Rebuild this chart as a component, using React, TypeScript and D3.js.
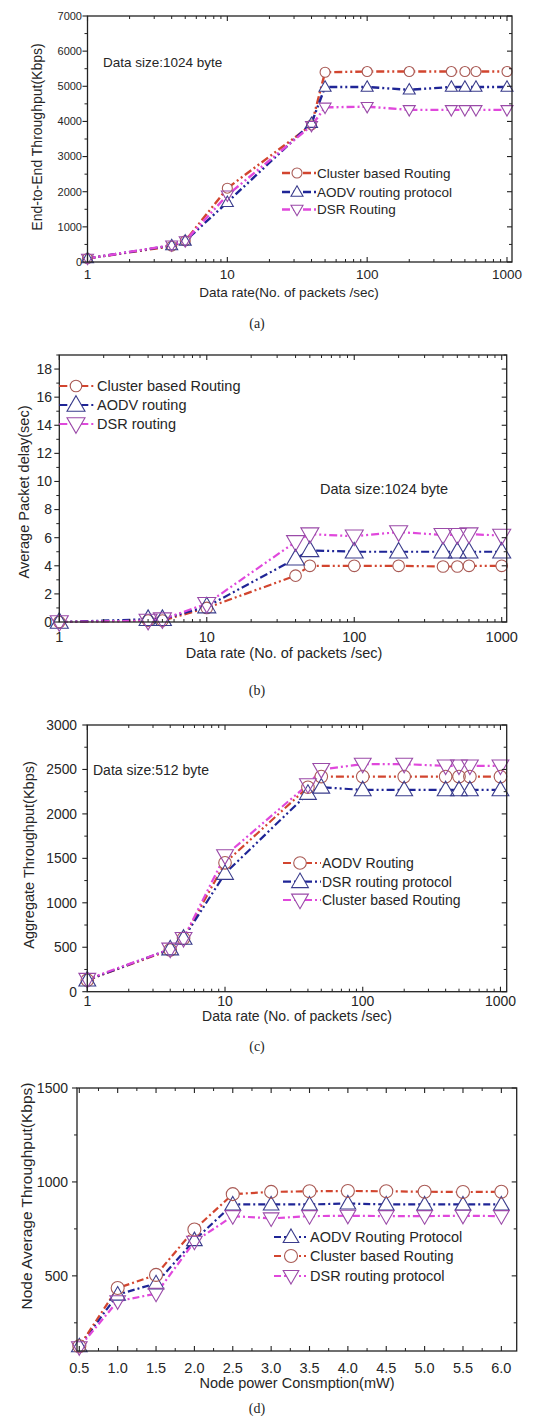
import * as d3 from "d3";

// shared x values (data rate, packets/sec) for panels a-c
const rateX = [1, 4, 5, 10, 40, 50, 100, 200, 400, 500, 600, 1000];
// node power (mW) for panel d
const powerX = [0.5, 1.0, 1.5, 2.0, 2.5, 3.0, 3.5, 4.0, 4.5, 5.0, 5.5, 6.0];

// (a) End-to-end throughput, 1024 byte
const aCluster = [100, 450, 600, 2100, 3900, 5400, 5420, 5420, 5420, 5420, 5420, 5420];
const aAodv = [100, 470, 600, 1700, 3950, 4980, 4980, 4900, 4980, 4980, 4980, 4980];
const aDsr = [100, 480, 600, 1900, 3880, 4400, 4420, 4330, 4330, 4330, 4330, 4330];

// (b) Average packet delay, 1024 byte
const bCluster = [0, 0.1, 0.1, 1.0, 3.3, 4.0, 4.0, 4.0, 3.95, 3.95, 4.0, 4.0];
const bAodv = [0, 0.2, 0.2, 1.1, 4.5, 5.1, 5.0, 5.0, 5.0, 5.0, 5.0, 5.0];
const bDsr = [0, 0.1, 0.2, 1.3, 5.7, 6.25, 6.1, 6.4, 6.2, 6.2, 6.25, 6.15];

// (c) Aggregate throughput, 512 byte
const cAodv = [130, 470, 600, 1450, 2300, 2420, 2420, 2420, 2420, 2420, 2420, 2420];
const cDsr = [130, 480, 600, 1330, 2230, 2300, 2270, 2270, 2270, 2270, 2270, 2270];
const cCluster = [140, 480, 600, 1530, 2330, 2500, 2560, 2560, 2540, 2540, 2540, 2540];

// (d) Node average throughput vs power
const dAodv = [125, 400, 460, 690, 880, 880, 880, 885, 880, 880, 880, 880];
const dCluster = [125, 435, 505, 747, 935, 947, 950, 952, 950, 948, 946, 948];
const dDsr = [120, 365, 405, 682, 818, 806, 818, 820, 818, 818, 820, 818];

const rateTicks = [1, 10, 100, 1000];
const rateTickLabels = ["1", "10", "100", "1000"];
const powerTicks = [0.5, 1.0, 1.5, 2.0, 2.5, 3.0, 3.5, 4.0, 4.5, 5.0, 5.5, 6.0];

const RED = "#d2452f";
const BLUE = "#1f2596";
const MAG = "#e048dc";
const RED_M = "#a95a55";
const BLUE_M = "#3a3c8c";
const MAG_M = "#9a4aa8";

const SANS = "'Liberation Sans', Arial, sans-serif";
const SERIF = "'Liberation Serif', 'Times New Roman', serif";
const TXT = "#262626";

type Marker = "circle" | "up" | "down";
type Series = { name: string; values: number[]; color: string; mcolor: string; marker: Marker };

type PanelCfg = {
  left: number; right: number; top: number; bottom: number;
  log: boolean;
  xDomain: [number, number];
  yDomain: [number, number];
  xs: number[];
  xTicks: number[]; xTickLabels: string[]; xMinor: number[];
  yTicks: number[]; yMinor: number[];
  series: Series[];
  xTitle: string; xTitleX: number; xTitleY: number;
  yTitle: string; yTitleX: number; yTitleY: number;
  note?: string; noteX?: number; noteY?: number;
  tag: string; tagY: number;
  legendRows: number[]; legendLine: [number, number]; legendMarkX: number; legendTextX: number;
  fs: number; yfs: number; xfs: number; ytfs: number;
  ms: number; cr: number; lw: number; dash: string;
  xTickY: number; yTickX: number;
};

const logMinor = (lo: number, hi: number) => {
  const out: number[] = [];
  for (let d = 1; d <= 1000; d *= 10) for (let k = 2; k <= 9; k++) {
    const v = d * k;
    if (v > lo && v < hi) out.push(v);
  }
  return out;
};

const range = (a: number, b: number, s: number) => d3.range(a, b + s / 2, s);

const markerPath = (m: Marker, s: number) => {
  if (m === "up") return `M0,${-s * 0.62}L${s * 0.6},${s * 0.42}L${-s * 0.6},${s * 0.42}Z`;
  if (m === "down") return `M0,${s * 0.62}L${s * 0.6},${-s * 0.42}L${-s * 0.6},${-s * 0.42}Z`;
  return "";
};

type MarkProps = { m: Marker; s: number; r: number; x: number; y: number; color: string; fill: string };

const Mark = ({ m, s, r, x, y, color, fill }: MarkProps) =>
  m === "circle" ? (
    <circle cx={x} cy={y} r={r} fill={fill} stroke={color} strokeWidth={1.1} />
  ) : (
    <path d={markerPath(m, s)} transform={`translate(${x},${y})`} fill={fill} stroke={color} strokeWidth={1.1} />
  );

const Panel = ({ c }: { c: PanelCfg }) => {
  const x = (c.log ? d3.scaleLog() : d3.scaleLinear()).domain(c.xDomain).range([c.left, c.right]);
  const y = d3.scaleLinear().domain(c.yDomain).range([c.bottom, c.top]);
  const line = d3
    .line<number>()
    .x((_, i) => x(c.xs[i]))
    .y((d) => y(d));
  const tick = "#222";
  return (
    <g>
      {c.series.map((s) => (
        <path key={s.name} d={line(s.values) || ""} fill="none" stroke={s.color} strokeWidth={c.lw} strokeDasharray={c.dash} />
      ))}
      {/* white fill first, outlines after, so overlapping markers stay visible */}
      {c.series.map((s) =>
        s.values.map((v, i) => (
          <Mark key={s.name + "f" + i} m={s.marker} s={c.ms} r={c.cr} x={x(c.xs[i])} y={y(v)} color="none" fill="#fff" />
        ))
      )}
      {c.series.map((s) =>
        s.values.map((v, i) => (
          <Mark key={s.name + "o" + i} m={s.marker} s={c.ms} r={c.cr} x={x(c.xs[i])} y={y(v)} color={s.mcolor} fill="none" />
        ))
      )}
      <rect x={c.left} y={c.top} width={c.right - c.left} height={c.bottom - c.top} fill="none" stroke={tick} strokeWidth={1.3} />
      {c.xTicks.map((t) => (
        <g key={"xt" + t}>
          <line x1={x(t)} x2={x(t)} y1={c.bottom} y2={c.bottom - 5} stroke={tick} strokeWidth={1.1} />
          <line x1={x(t)} x2={x(t)} y1={c.top} y2={c.top + 5} stroke={tick} strokeWidth={1.1} />
        </g>
      ))}
      {c.xMinor.map((t) => (
        <g key={"xm" + t}>
          <line x1={x(t)} x2={x(t)} y1={c.bottom} y2={c.bottom - 3} stroke={tick} strokeWidth={1} />
          <line x1={x(t)} x2={x(t)} y1={c.top} y2={c.top + 3} stroke={tick} strokeWidth={1} />
        </g>
      ))}
      {c.xTicks.map((t, i) => (
        <text key={"xl" + t} x={x(t)} y={c.xTickY} textAnchor="middle" fontSize={c.xfs} fontFamily={SANS} fill={TXT}>
          {c.xTickLabels[i]}
        </text>
      ))}
      {c.yTicks.map((t) => (
        <g key={"yt" + t}>
          <line x1={c.left} x2={c.left - 5} y1={y(t)} y2={y(t)} stroke={tick} strokeWidth={1.1} />
          <line x1={c.right} x2={c.right - 5} y1={y(t)} y2={y(t)} stroke={tick} strokeWidth={1.1} />
          <text x={c.yTickX} y={y(t)} dy="0.35em" textAnchor="end" fontSize={c.yfs} fontFamily={SANS} fill={TXT}>
            {t}
          </text>
        </g>
      ))}
      {c.yMinor.map((t) => (
        <g key={"ym" + t}>
          <line x1={c.left} x2={c.left - 3} y1={y(t)} y2={y(t)} stroke={tick} strokeWidth={1} />
          <line x1={c.right} x2={c.right - 3} y1={y(t)} y2={y(t)} stroke={tick} strokeWidth={1} />
        </g>
      ))}
      <text x={c.xTitleX} y={c.xTitleY} textAnchor="middle" fontSize={c.fs} fontFamily={SANS} fill={TXT}>
        {c.xTitle}
      </text>
      <text
        transform={`translate(${c.yTitleX},${c.yTitleY}) rotate(-90)`}
        textAnchor="middle"
        fontSize={c.ytfs}
        fontFamily={SANS}
        fill={TXT}
      >
        {c.yTitle}
      </text>
      {c.note && (
        <text x={c.noteX} y={c.noteY} fontSize={c.fs} fontFamily={SANS} fill={TXT}>
          {c.note}
        </text>
      )}
      {c.series.map((s, i) => {
        const ly = c.legendRows[i];
        return (
          <g key={"lg" + s.name}>
            <line x1={c.legendLine[0]} x2={c.legendLine[1]} y1={ly} y2={ly} stroke={s.color} strokeWidth={c.lw} strokeDasharray={c.dash} />
            <Mark m={s.marker} s={c.ms} r={c.cr} x={c.legendMarkX} y={ly} color={s.mcolor} fill="#fff" />
            <text x={c.legendTextX} y={ly} dy="0.36em" fontSize={c.fs} fontFamily={SANS} fill={TXT}>
              {s.name}
            </text>
          </g>
        );
      })}
      <text x={257} y={c.tagY} textAnchor="middle" fontSize={14} fontFamily={SERIF} fill={TXT}>
        {c.tag}
      </text>
    </g>
  );
};

const DASH = "8,3,2,3,2,3";

const panelA: PanelCfg = {
  left: 87.5, right: 512, top: 16, bottom: 262, log: true,
  xDomain: [1, 1086], yDomain: [0, 7000], xs: rateX,
  xTicks: rateTicks, xTickLabels: rateTickLabels, xMinor: logMinor(1, 1086),
  yTicks: range(0, 7000, 1000), yMinor: range(500, 6500, 1000),
  series: [
    { name: "Cluster based Routing", values: aCluster, color: RED, mcolor: RED_M, marker: "circle" },
    { name: "AODV routing protocol", values: aAodv, color: BLUE, mcolor: BLUE_M, marker: "up" },
    { name: "DSR Routing", values: aDsr, color: MAG, mcolor: MAG_M, marker: "down" },
  ],
  xTitle: "Data rate(No. of packets /sec)", xTitleX: 289, xTitleY: 297,
  yTitle: "End-to-End Throughput(Kbps)", yTitleX: 42, yTitleY: 137,
  note: "Data size:1024 byte", noteX: 103, noteY: 67,
  tag: "(a)", tagY: 328,
  legendRows: [173, 192, 209.5], legendLine: [282, 316], legendMarkX: 297, legendTextX: 317,
  fs: 13.5, yfs: 11, xfs: 13.5, ytfs: 14, ms: 10, cr: 5, lw: 2.4, dash: DASH,
  xTickY: 279, yTickX: 82,
};

const panelB: PanelCfg = {
  left: 59.3, right: 506.7, top: 355, bottom: 622, log: true,
  xDomain: [1, 1081], yDomain: [0, 19], xs: rateX,
  xTicks: rateTicks, xTickLabels: rateTickLabels, xMinor: logMinor(1, 1081),
  yTicks: range(0, 18, 2), yMinor: range(1, 19, 2),
  series: [
    { name: "Cluster based Routing", values: bCluster, color: RED, mcolor: RED_M, marker: "circle" },
    { name: "AODV routing", values: bAodv, color: BLUE, mcolor: BLUE_M, marker: "up" },
    { name: "DSR routing", values: bDsr, color: MAG, mcolor: MAG_M, marker: "down" },
  ],
  xTitle: "Data rate (No. of packets /sec)", xTitleX: 284, xTitleY: 658,
  yTitle: "Average Packet delay(sec)", yTitleX: 29, yTitleY: 492,
  note: "Data size:1024 byte", noteX: 320, noteY: 494,
  tag: "(b)", tagY: 695,
  legendRows: [386, 405, 424], legendLine: [59.3, 96], legendMarkX: 76, legendTextX: 97,
  fs: 14.5, yfs: 14, xfs: 14.5, ytfs: 14.5, ms: 15, cr: 5.8, lw: 2.2, dash: DASH,
  xTickY: 642, yTickX: 52,
};

const panelC: PanelCfg = {
  left: 87.3, right: 506.7, top: 725, bottom: 991.7, log: true,
  xDomain: [1, 1110], yDomain: [0, 3000], xs: rateX,
  xTicks: rateTicks, xTickLabels: rateTickLabels, xMinor: logMinor(1, 1110),
  yTicks: range(0, 3000, 500), yMinor: range(250, 2750, 500),
  series: [
    { name: "AODV Routing", values: cAodv, color: RED, mcolor: RED_M, marker: "circle" },
    { name: "DSR routing protocol", values: cDsr, color: BLUE, mcolor: BLUE_M, marker: "up" },
    { name: "Cluster based Routing", values: cCluster, color: MAG, mcolor: MAG_M, marker: "down" },
  ],
  xTitle: "Data rate (No. of packets /sec)", xTitleX: 297, xTitleY: 1021,
  yTitle: "Aggregate Throughput(Kbps)", yTitleX: 34, yTitleY: 855,
  note: "Data size:512 byte", noteX: 93, noteY: 775,
  tag: "(c)", tagY: 1051,
  legendRows: [863, 881.7, 900], legendLine: [283, 321], legendMarkX: 300, legendTextX: 322,
  fs: 14, yfs: 13.8, xfs: 14, ytfs: 14.5, ms: 14, cr: 6.3, lw: 2.2, dash: DASH,
  xTickY: 1006, yTickX: 77,
};

const panelD: PanelCfg = {
  left: 77, right: 516.7, top: 1088, bottom: 1351, log: false,
  xDomain: [0.47, 6.2], yDomain: [100, 1500], xs: powerX,
  xTicks: powerTicks, xTickLabels: powerTicks.map((v) => v.toFixed(1)), xMinor: range(0.75, 6.0, 0.5),
  yTicks: [500, 1000, 1500], yMinor: [250, 750, 1250],
  series: [
    { name: "AODV Routing Protocol", values: dAodv, color: BLUE, mcolor: BLUE_M, marker: "up" },
    { name: " Cluster based Routing", values: dCluster, color: RED, mcolor: RED_M, marker: "circle" },
    { name: "DSR routing protocol", values: dDsr, color: MAG, mcolor: MAG_M, marker: "down" },
  ],
  xTitle: "Node power Consmption(mW)", xTitleX: 297, xTitleY: 1388,
  yTitle: "Node Average  Throughput(Kbps)", yTitleX: 32, yTitleY: 1196,
  tag: "(d)", tagY: 1413,
  legendRows: [1237, 1256, 1276], legendLine: [274, 306], legendMarkX: 291, legendTextX: 310,
  fs: 14.5, yfs: 14, xfs: 14.5, ytfs: 15.5, ms: 13, cr: 6.5, lw: 2.2, dash: "7,3,2,3",
  xTickY: 1373, yTickX: 68,
};

export default function App() {
  return (
    <svg
      width={555}
      height={1419}
      style={{ position: "absolute", left: 0, top: 0, background: "#fff" }}
    >
      <rect width={555} height={1419} fill="#fff" />
      <Panel c={panelA} />
      <Panel c={panelB} />
      <Panel c={panelC} />
      <Panel c={panelD} />
    </svg>
  );
}
